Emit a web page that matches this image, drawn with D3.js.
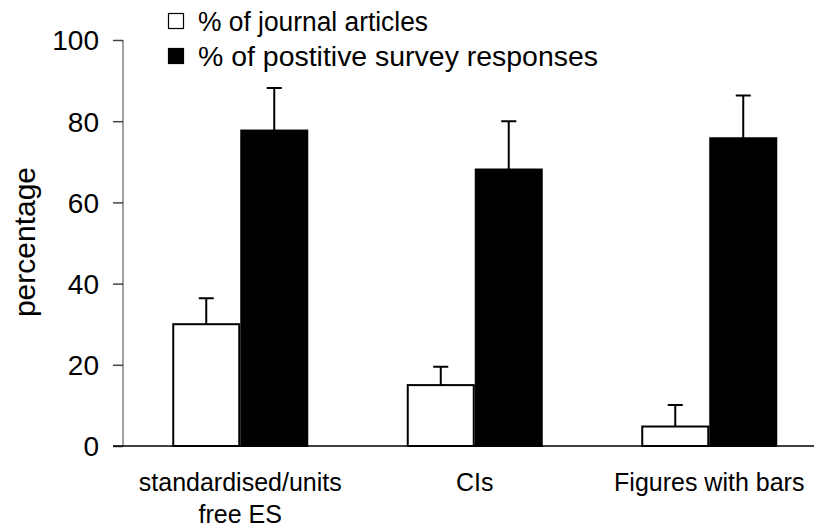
<!DOCTYPE html>
<html><head><meta charset="utf-8">
<script src="https://cdn.jsdelivr.net/npm/d3@7"></script>
<style>body{margin:0;background:#fff}svg{display:block}text{font-family:Arial,"Liberation Sans",Helvetica,sans-serif;fill:#000}</style>
</head><body>
<svg id="c" width="816" height="528"></svg>
<script>
const categories = [["standardised/units","free ES"],["CIs"],["Figures with bars"]];
const seriesNames = ["% of journal articles","% of postitive survey responses"];
const journalValues = [30, 15, 4.8];
const journalErrors = [6.4, 4.5, 5.3];
const surveyValues = [77.7, 68.1, 75.8];
const surveyErrors = [10.5, 11.9, 10.5];
const yTicks = [0, 20, 40, 60, 80, 100];

const svg = d3.select("#c");
const y = d3.scaleLinear().domain([0,100]).range([446, 40]);
const x0 = d3.scaleBand().domain(d3.range(categories.length)).range([123, 826.5]).padding(0);
const x1 = d3.scaleBand().domain([0,1]).range([0,136]).padding(0);
const fills = ["#fff","#000"];
const series = [
  {vals: journalValues, errs: journalErrors},
  {vals: surveyValues, errs: surveyErrors}
];

// y axis
const yAxis = d3.axisLeft(y).tickValues(yTicks).tickSize(10).tickPadding(14).tickFormat(d3.format("d"));
const gy = svg.append("g").attr("transform","translate(123,0)").call(yAxis);
gy.select(".domain").attr("stroke","#808080").attr("stroke-width",1.5).attr("d","M0,40V446");
gy.selectAll(".tick line").attr("stroke","#444").attr("stroke-width",1.5);
gy.selectAll(".tick text").attr("font-size",28).attr("font-family","Arial, 'Liberation Sans', sans-serif").attr("fill","#000").attr("dy","0.35em");

// bars
series.forEach((s,si)=>{
  const g = svg.append("g");
  g.selectAll("rect").data(s.vals).join("rect")
    .attr("x",(d,i)=>x0(i)+x0.bandwidth()/2-68+x1(si)+1)
    .attr("width",x1.bandwidth()-2)
    .attr("y",d=>y(d))
    .attr("height",d=>y(0)-y(d))
    .attr("fill",fills[si]).attr("stroke","#000").attr("stroke-width",2);
  const cx = i => x0(i)+x0.bandwidth()/2-68+x1(si)+x1.bandwidth()/2;
  g.selectAll("path.err").data(s.vals).join("path").attr("class","err")
    .attr("d",(d,i)=>`M${cx(i)},${y(d)}V${y(d+s.errs[i])}M${cx(i)-7.5},${y(d+s.errs[i])}H${cx(i)+7.5}`)
    .attr("stroke","#000").attr("stroke-width",2).attr("fill","none");
});

// x axis baseline
svg.append("line").attr("x1",113).attr("x2",814).attr("y1",y(0)).attr("y2",y(0)).attr("stroke","#000").attr("stroke-width",1.5);

// category labels
categories.forEach((lines,i)=>{
  const t = svg.append("text").attr("text-anchor","middle").attr("font-size",25)
    .attr("x",x0(i)+x0.bandwidth()/2).attr("y",491);
  lines.forEach((l,j)=>t.append("tspan").attr("x",x0(i)+x0.bandwidth()/2).attr("dy",j?32:0).text(l));
});

// y title
svg.append("text").attr("transform","translate(35,242) rotate(-90)").attr("text-anchor","middle")
  .attr("font-size",30).text("percentage");

// legend
const legendWidths = [230, 400];
seriesNames.forEach((n,i)=>{
  const cy = 21 + i*35;
  svg.append("rect").attr("x",168.5).attr("y",cy-7.5).attr("width",15).attr("height",15)
    .attr("fill",fills[i]).attr("stroke","#000").attr("stroke-width",1.2);
  svg.append("text").attr("x",198).attr("y",cy+10).attr("font-size",27)
    .attr("textLength",legendWidths[i]).attr("lengthAdjust","spacingAndGlyphs").text(n);
});
</script>
</body></html>
